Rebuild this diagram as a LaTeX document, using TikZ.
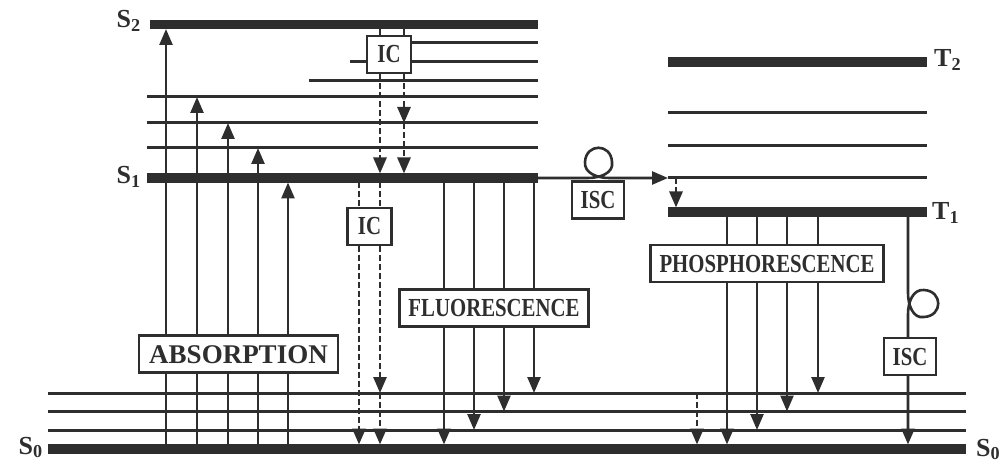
\documentclass[tikz,border=0pt]{standalone}
\usepackage{fontspec}
\setmainfont{Liberation Serif}
\newfontfamily\narrowfont[FakeStretch=0.8]{Liberation Serif}
\usetikzlibrary{arrows.meta}

\tikzset{
  bar/.style={line width=9.5pt},
  level/.style={line width=3pt},
  arr/.style={->, line width=2.6pt},
  darr/.style={->, line width=2.8pt, dash pattern=on 6pt off 3pt},
  box/.style={draw, fill=white, line width=2.2pt, inner xsep=9pt, inner ysep=10pt,
    text height=17pt, text depth=0pt, font={\narrowfont\bfseries\fontsize{26}{28}\selectfont}},
  smallbox/.style={box, minimum width=44pt},
  state/.style={font={\bfseries\fontsize{26}{28}\selectfont}, inner sep=0pt}
}

\begin{document}
\begin{tikzpicture}[x=1pt, y=-1pt, >={Triangle[length=16pt,width=13pt]}, color=black!82]
\useasboundingbox (0,0) rectangle (1008,462);

% heights the arrows run to
\coordinate (s2) at (0,29);
\coordinate (u4) at (0,97);
\coordinate (u5) at (0,123);
\coordinate (u6) at (0,148);
\coordinate (s1t) at (0,173.5);
\coordinate (s1b) at (0,182.5);
\coordinate (t1t) at (0,207.5);
\coordinate (t1b) at (0,216.5);
\coordinate (g1) at (0,393);
\coordinate (g2) at (0,411.5);
\coordinate (g3) at (0,430);
\coordinate (s0) at (0,444.5);

% singlet levels
\draw[bar] (150,24.5) -- (538,24.5);
\draw[level] (412,42.5) -- (538,42.5);
\draw[level] (350,61.5) -- (538,61.5);
\draw[level] (309,81) -- (538,81);
\foreach \y in {97,123,148} \draw[level] (147,\y) -- (538,\y);
\draw[bar] (147,178) -- (538,178) coordinate (S1r);

% triplet levels
\draw[bar] (668,62) -- (927,62);
\foreach \y in {113,146} \draw[level] (668,\y) -- (927,\y);
\draw[level] (668,178) coordinate (w3) -- (927,178);
\draw[bar] (668,212) -- (927,212);

% ground state
\foreach \y in {393,411.5,430} \draw[level] (48,\y) -- (966,\y);
\draw[bar] (48,449) -- (966,449);

% absorption
\foreach \x/\lev [count=\i] in {166/s2, 197/u4, 228/u5, 258/u6, 288/s1b} {
  \coordinate (ab\i) at (\x,0);
  \draw[arr] (ab\i |- s0) -- (ab\i |- \lev);
}

% fluorescence
\foreach \x/\lev [count=\i] in {444/s0, 474/g3, 504/g2, 534/g1} {
  \coordinate (fl\i) at (\x,0);
  \draw[arr] (fl\i |- s1b) -- (fl\i |- \lev);
}

% phosphorescence
\foreach \x/\lev [count=\i] in {727/s0, 757/g3, 787/g2, 818/g1} {
  \coordinate (ph\i) at (\x,0);
  \draw[arr] (ph\i |- t1b) -- (ph\i |- \lev);
}

% internal conversion
\coordinate (ic1) at (380,0);
\coordinate (ic2) at (404,0);
\coordinate (ic3) at (359,0);
\coordinate (vr) at (676,0);
\coordinate (vg) at (697,0);
\draw[darr] (ic1 |- s2) -- (ic1 |- s1t);
\draw[darr] (ic2 |- s2) -- (ic2 |- u5);
\draw[darr] (ic2 |- u5) -- (ic2 |- s1t);
\draw[darr] (ic3 |- s1b) -- (ic3 |- s0);
\draw[darr] (ic1 |- s1b) -- (ic1 |- g1);
\draw[darr] (ic1 |- g1) -- (ic1 |- s0);
\draw[darr] (vr |- w3) -- (vr |- t1t);
\draw[darr] (vg |- g1) -- (vg |- s0);

% intersystem crossing
\draw[arr] (S1r) -- (588,178) .. controls (600,178) and (614,173) .. (612,162)
  .. controls (611,143) and (586,143) .. (585,162)
  .. controls (584,173) and (597,178) .. (609,178) -- (w3);
\coordinate (isc) at (908,0);
\draw[arr] (isc |- t1b) -- (908,293) .. controls (908,305) and (913,319) .. (924,317)
  .. controls (943,316) and (943,291) .. (924,290)
  .. controls (913,289) and (908,302) .. (908,314) -- (isc |- s0);

% boxes
\node[smallbox] (icA) at (389,54.5) {IC};
\node[smallbox] (icB) at (369.5,226.5) {IC};
\node[smallbox, minimum width=52pt] (iscA) at (598,200) {ISC};
\node[smallbox, minimum width=52pt] (iscB) at (910,356.5) {ISC};
\node[box, inner xsep=10pt, text height=18pt, inner ysep=9.5pt,
  font={\bfseries\fontsize{27}{29}\selectfont}] (absorb) at (238.5,354) {ABSORPTION};
\node[box] (fluor) at (494,308) {FLUORESCENCE};
\node[box] (phos) at (767,263.5) {PHOSPHORESCENCE};

% state labels
\node[state, anchor=base east] (S2lbl) at (141,28) {S\textsubscript{2}};
\node[state, anchor=base east] (S1lbl) at (141,184) {S\textsubscript{1}};
\node[state, anchor=base east] (S0lbl) at (43,454) {S\textsubscript{0}};
\node[state, anchor=base west] (S0rlbl) at (976,456) {S\textsubscript{0}};
\node[state, anchor=base west] (T2lbl) at (934,67) {T\textsubscript{2}};
\node[state, anchor=base west] (T1lbl) at (932,220) {T\textsubscript{1}};
\end{tikzpicture}
\end{document}
